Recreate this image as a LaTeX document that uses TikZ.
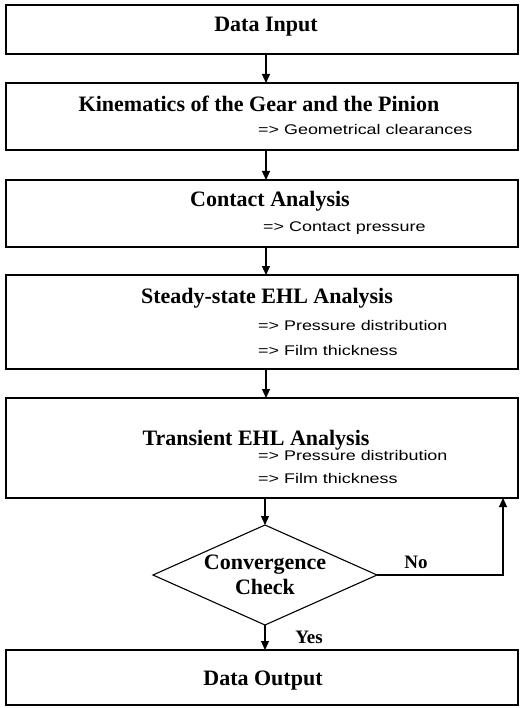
\documentclass[tikz,border=0pt]{standalone}
\usepackage{fontspec}
\setmainfont{Liberation Serif}
\newfontfamily\notefont[FakeStretch=1.28]{Liberation Sans}
\usepackage{tikz}
\usetikzlibrary{shapes,arrows.meta,positioning}
\tikzset{
  box-style/.style = {
    rectangle, draw, line width=1.1pt,
    minimum width=512pt,
    minimum height=#1,
    inner sep=0pt, outer sep=0pt
  },
  title-style/.style = {
    font=\fontsize{22}{25}\selectfont\bfseries,
    inner sep=0pt, anchor=base
  },
  note-style/.style = {
    font=\notefont\fontsize{14}{16}\selectfont,
    inner sep=0pt, anchor=base west
  },
  check-style/.style = {
    diamond, draw, line width=1.1pt, aspect=2.24,
    minimum width=224pt, minimum height=100pt,
    inner sep=0pt, outer sep=0pt, align=center,
    font=\fontsize{22}{25}\selectfont\bfseries
  },
  answer-style/.style = {
    font=\fontsize{19}{21}\selectfont\bfseries,
    inner sep=0pt, anchor=base
  },
  flow-style/.style = {
    draw, line width=1.1pt, -{Triangle[length=9pt,width=8pt]}
  },
  every edge/.style = {flow-style}
}

\begin{document}
\begin{tikzpicture}
    \useasboundingbox (0pt,0pt) rectangle (519pt,-708pt);

    %%% boxes
    \node[box-style=49pt] (input) at (262pt,-29.5pt) {};
    \node[box-style=67pt,below=29pt of input] (kin) {};
    \node[box-style=67pt,below=30pt of kin] (contact) {};
    \node[box-style=94pt,below=28pt of contact] (steady) {};
    \node[box-style=100pt,below=29pt of steady] (trans) {};
    \node[check-style,below=27pt of trans,xshift=3pt] (check) {Convergence\\Check};
    \node[box-style=55pt,below=25pt of check,xshift=-3pt] (output) {};

    %%% texts
    \node[title-style] (input-t) at ([xshift=4pt,yshift=-27pt]input.north) {Data Input};

    \node[title-style] (kin-t) at ([xshift=-3pt,yshift=-29pt]kin.north) {Kinematics of the Gear and the Pinion};
    \node[note-style] (kin-n) at ([xshift=-4pt,yshift=15pt]kin.south) {=> Geometrical clearances};

    \node[title-style] (contact-t) at ([xshift=8pt,yshift=-27pt]contact.north) {Contact Analysis};
    \node[note-style] (contact-n) at ([xshift=1pt,yshift=15pt]contact.south) {=> Contact pressure};

    \node[title-style] (steady-t) at ([xshift=5pt,yshift=-28pt]steady.north) {Steady-state EHL Analysis};
    \node[note-style] (steady-p) at ([xshift=-4pt,yshift=39pt]steady.south) {=> Pressure distribution};
    \node[note-style] (steady-f) at ([xshift=-4pt,yshift=14pt]steady.south) {=> Film thickness};

    \node[title-style] (trans-t) at ([xshift=-6pt,yshift=-47pt]trans.north) {Transient EHL Analysis};
    \node[note-style] (trans-p) at ([xshift=-4pt,yshift=38pt]trans.south) {=> Pressure distribution};
    \node[note-style] (trans-f) at ([xshift=-4pt,yshift=15pt]trans.south) {=> Film thickness};

    \node[title-style] (output-t) at ([xshift=1pt,yshift=-35pt]output.north) {Data Output};

    \node[answer-style] (no) at ([xshift=39pt,yshift=7pt]check.east) {No};
    \node[answer-style] (yes) at ([xshift=44pt,yshift=-18pt]check.south) {Yes};

    %%% arrows
    \path ([xshift=4pt]input.south) edge ([xshift=4pt]kin.north);
    \path ([xshift=4pt]kin.south) edge ([xshift=4pt]contact.north);
    \path ([xshift=4pt]contact.south) edge ([xshift=4pt]steady.north);
    \path ([xshift=4pt]steady.south) edge ([xshift=4pt]trans.north);
    \path ([xshift=3pt]trans.south) edge (check.north);
    \path (check.south) edge (check.south |- output.north);
    % back to transient analysis
    \draw[flow-style] (check.east) -| ([xshift=-15pt]trans.south east);
\end{tikzpicture}
\end{document}
